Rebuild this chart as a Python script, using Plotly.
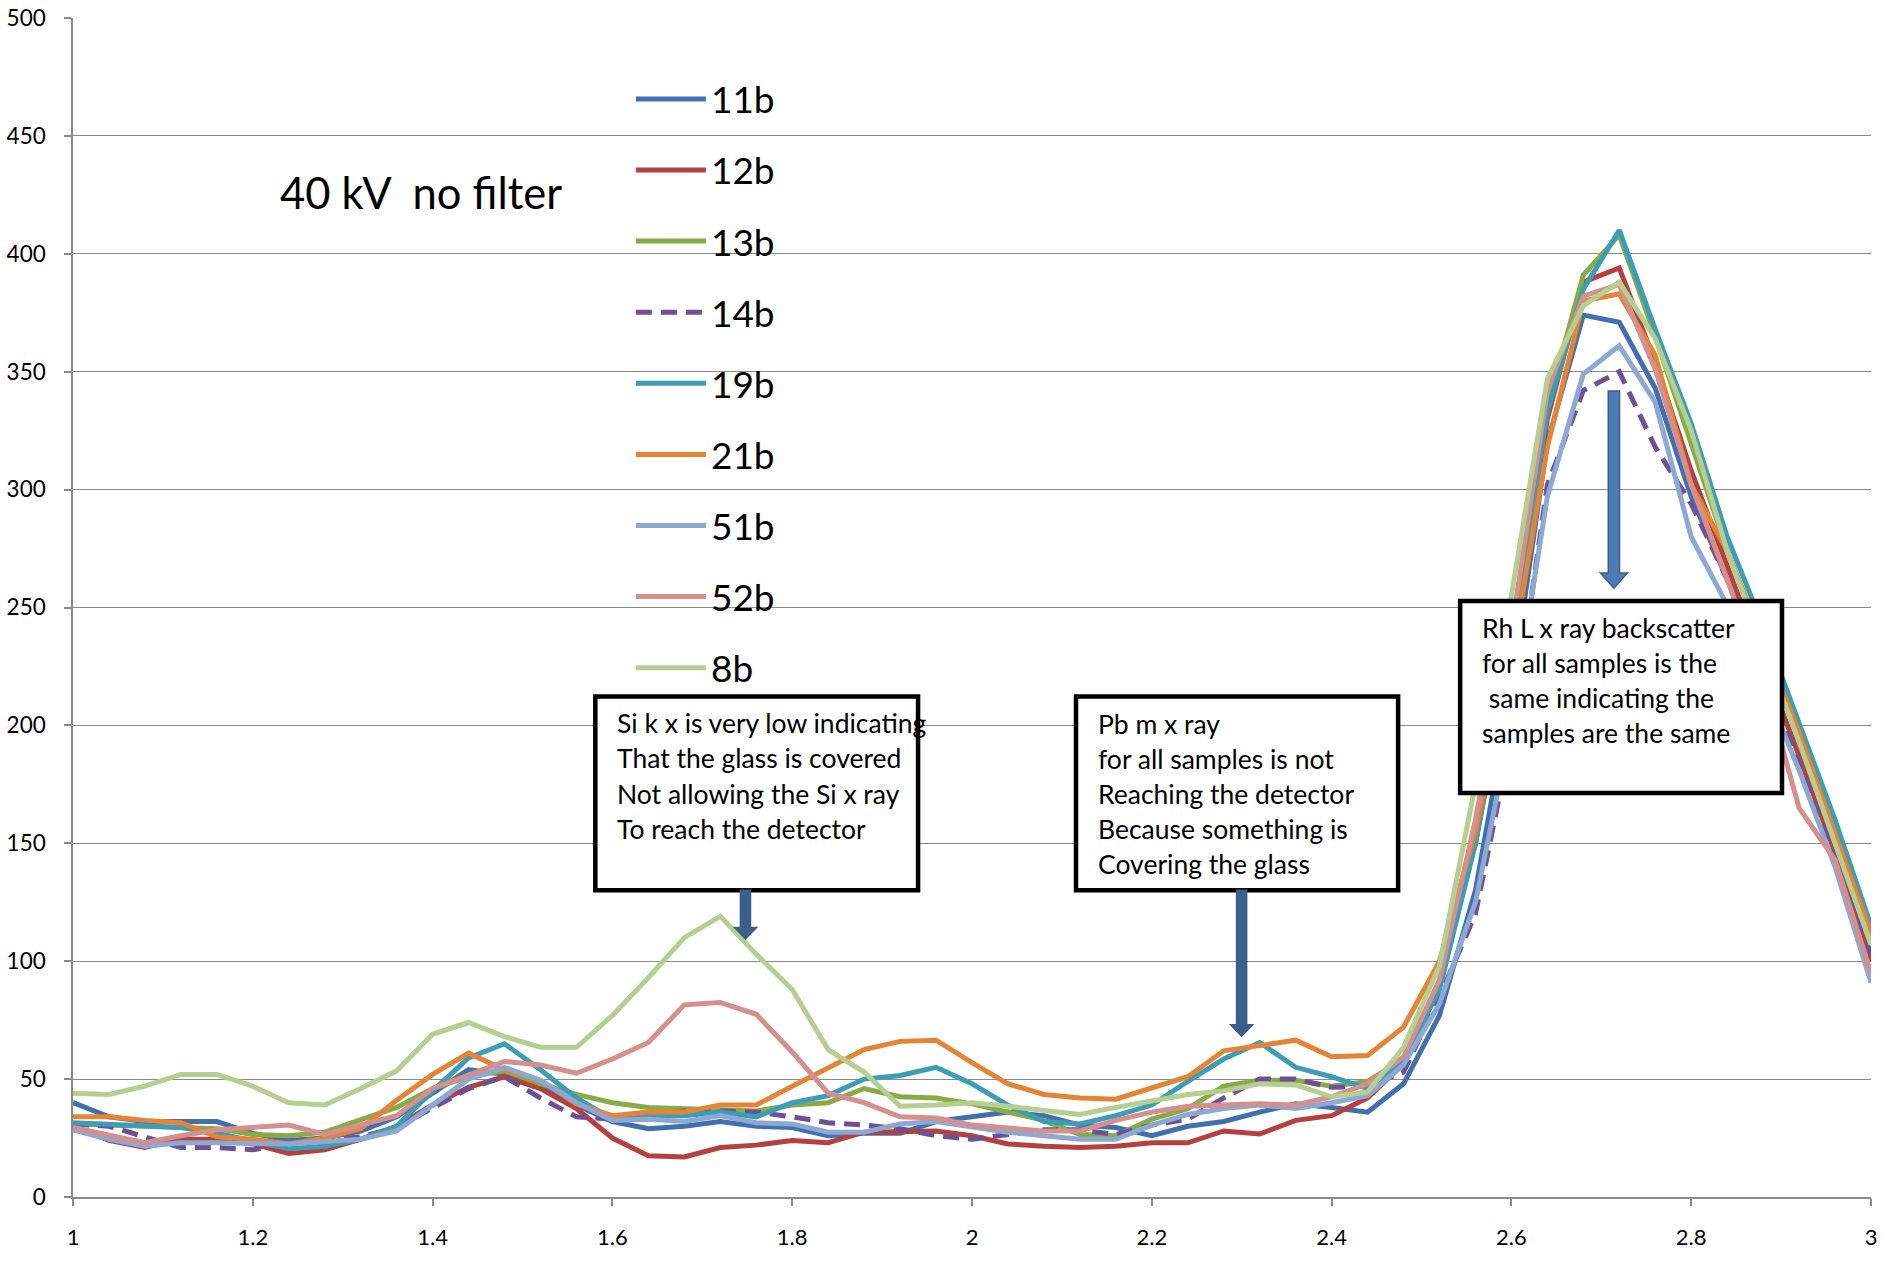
import plotly.graph_objects as go

# Energy axis (keV), one channel every 0.04 keV
energy = [1.00, 1.04, 1.08, 1.12, 1.16, 1.20, 1.24, 1.28, 1.32, 1.36,
          1.40, 1.44, 1.48, 1.52, 1.56, 1.60, 1.64, 1.68, 1.72, 1.76,
          1.80, 1.84, 1.88, 1.92, 1.96, 2.00, 2.04, 2.08, 2.12, 2.16,
          2.20, 2.24, 2.28, 2.32, 2.36, 2.40, 2.44, 2.48, 2.52, 2.56,
          2.60, 2.64, 2.68, 2.72, 2.76, 2.80, 2.84, 2.88, 2.92, 2.96, 3.00]

# Counts per channel for each sample
s11b = [40, 34, 32, 32, 32, 27, 24, 25, 28, 34, 44, 54, 52, 48, 39, 32, 29, 30, 32, 30,
        29.5, 26, 27, 27, 32, 34, 36, 34.5, 30.5, 29.5, 26, 30, 32, 36, 39.5, 38, 36, 48, 77, 130,
        215, 320, 374, 371, 343, 297, 262, 225, 188, 147, 102]
s12b = [30, 24, 21, 24.5, 24.5, 22.5, 18.5, 20, 24.5, 30, 39, 46.5, 51, 46, 37.5, 25, 17.5, 17, 21, 22,
        24, 23, 27.5, 27.5, 28, 26, 22.5, 21.5, 21, 21.5, 23, 23, 28, 26.7, 32.5, 34.5, 42, 56.5, 90, 150,
        230, 330, 388, 394, 354, 308, 268, 228, 187, 146, 100]
s13b = [31, 30.5, 30, 29.5, 29, 26.5, 26, 27.5, 32.5, 38, 46, 51, 53.5, 48, 43.5, 40, 38, 37.5, 36.5, 36.5,
        39, 40, 46, 42.5, 42, 39.5, 36, 32.5, 26.5, 26, 33, 37.5, 47, 49.5, 49.5, 47, 49, 58.5, 92, 150,
        235, 335, 391, 408, 365, 320, 274, 235, 195, 152, 110]
s14b = [31, 30, 25.5, 21, 21, 20, 23, 24.5, 25.5, 29.5, 38, 46, 51, 42, 34, 33, 34.5, 36.5, 36.5, 36,
        34, 31.5, 30.5, 29, 26, 24.5, 26.5, 28.5, 28.5, 26.5, 30.5, 33, 42, 50, 50, 46.5, 47, 53, 85, 120,
        195, 302, 342, 350, 318, 294, 262, 222, 184, 144, 103]
s19b = [31.5, 31, 30.5, 29.5, 27, 24, 20.5, 21.5, 24.5, 30, 45, 59, 65, 54, 42, 33, 34.5, 34.5, 36, 34,
        40, 43, 50, 51.5, 55, 48, 39, 32, 31, 34.5, 39, 49, 58.5, 65.5, 55, 51, 46, 58, 88, 150,
        235, 333, 385, 410, 368, 328, 280, 242, 201, 160, 115]
s21b = [34, 34, 32.5, 31.5, 25.5, 24.5, 22.5, 25, 29, 41, 52, 61, 54, 49.5, 39.5, 34.5, 36, 36, 39, 39,
        47, 54.5, 62.5, 66, 66.5, 57, 48, 43.5, 42, 41.5, 46, 51, 62, 64, 66.5, 59.5, 60, 72, 100, 155,
        228, 318, 380, 383, 357, 302, 274, 236, 197, 154, 112]
s51b = [28.5, 24.5, 21.5, 23, 23, 23, 22.5, 23.5, 24.5, 28, 39, 50, 55, 49.5, 40, 32.5, 33, 32, 34.5, 31.5,
        31, 27.5, 27.5, 31, 32, 29.5, 27.5, 26, 24.5, 24.5, 30.5, 35, 37.5, 39, 37.5, 40, 43, 56, 82, 125,
        200, 297, 349, 361, 337, 280, 251, 218, 181, 140, 91]
s52b = [29.5, 26, 23, 26, 28.5, 29.5, 30.5, 26.5, 30.5, 34.5, 46, 52, 57.5, 56, 52.5, 58.5, 65.5, 81.5, 82.5, 77.5,
        61.5, 44, 40, 34, 33.5, 30.5, 29, 28, 28, 32.5, 36, 38.5, 39, 39.5, 39, 42.5, 48, 59.5, 92, 160,
        240, 342, 382, 387, 351, 302, 262, 220, 165, 143, 95]
s8b = [44, 43.5, 47, 52, 52, 47, 40, 39, 46, 53.5, 69, 74, 68, 63.5, 63.5, 77, 93, 110, 119, 103,
       88, 62.5, 53, 38.5, 39, 40, 38.5, 36.5, 35, 38, 41, 43.5, 45, 48, 47.5, 42.5, 44.5, 63.5, 98, 175,
       255, 347, 378, 388, 364, 325, 274, 234, 193, 150, 107]

sample_names = ["11b", "12b", "13b", "14b", "19b", "21b", "51b", "52b", "8b"]
sample_counts = [s11b, s12b, s13b, s14b, s19b, s21b, s51b, s52b, s8b]
sample_colors = ["#4170B0", "#B5403D", "#88AB47", "#6E5195", "#3C9DB6",
                 "#E58434", "#8EA8D4", "#D58F8C", "#B5CF90"]
sample_dash = ["solid", "solid", "solid", "16px,9px", "solid",
               "solid", "solid", "solid", "solid"]

x_ticks = [1, 1.2, 1.4, 1.6, 1.8, 2, 2.2, 2.4, 2.6, 2.8, 3]

si_note = ["Si k x is very low indicating", "That the glass is covered",
           "Not allowing the Si x ray", "To reach the detector"]
pb_note = ["Pb m x ray", "for all samples is not", "Reaching the detector",
           "Because something is", "Covering the glass"]
rh_note = ["Rh L x ray backscatter", "for all samples is the",
           "\u00a0same indicating the", "samples are the same"]

GRID = "#8A8A8A"
ARROW = "#3B5E8C"

fig = go.Figure()
for name, counts, color, dash in zip(sample_names, sample_counts, sample_colors, sample_dash):
    fig.add_trace(go.Scatter(
        x=energy, y=counts, name=name, mode="lines", legendgroup=name,
        line=dict(color=color, width=5, dash=dash),
    ))

shapes = []
annotations = []


def note_box(x0, x1, y0, y1):
    shapes.append(dict(type="rect", xref="x", yref="y", x0=x0, x1=x1, y0=y0, y1=y1,
                       line=dict(color="black", width=4.5), fillcolor="white", layer="above"))


def note_lines(lines, x, y_first, step, font):
    for i, line in enumerate(lines):
        annotations.append(dict(text=line, x=x, y=y_first - i * step, xref="x", yref="y",
                                xanchor="left", yanchor="middle", showarrow=False,
                                font=font, borderpad=0))


def down_arrow(xc, y_top, y_tip, shaft_w, head_w, head_h, fill, edge):
    head_base = y_tip + head_h
    path = (f"M{xc - shaft_w / 2},{y_top} L{xc + shaft_w / 2},{y_top} "
            f"L{xc + shaft_w / 2},{head_base} L{xc + head_w / 2},{head_base} "
            f"L{xc},{y_tip} L{xc - head_w / 2},{head_base} "
            f"L{xc - shaft_w / 2},{head_base} Z")
    shapes.append(dict(type="path", xref="x", yref="y", path=path, fillcolor=fill,
                       line=dict(color=edge, width=1.5), layer="above"))


si_font = dict(family="Lato", size=26.5, color="black")
box_font = dict(family="Lato", size=26.5, color="black")

# Si K note
note_box(1.581, 1.940, 130.1, 212.3)
note_lines(si_note, 1.6045, 200.9, 14.9, si_font)
down_arrow(1.748, 130.1, 109.5, 0.0112, 0.0245, 4.8, ARROW, ARROW)

# Pb M note
note_box(2.1157, 2.474, 130.1, 212.3)
note_lines(pb_note, 2.1388, 200.8, 14.9, box_font)
down_arrow(2.2999, 130.1, 68.2, 0.0112, 0.0245, 4.8, ARROW, ARROW)

# Rh L backscatter note
down_arrow(2.714, 341.8, 258.2, 0.0125, 0.030, 6.4, "#4C7CB8", ARROW)
note_box(2.543, 2.901, 171.3, 252.8)
note_lines(rh_note, 2.566, 241.3, 14.9, box_font)

# Measurement conditions
annotations.append(dict(text="40 kV\u00a0 no filter", x=1.2286, y=426.3, xref="x", yref="y",
                        xanchor="left", yanchor="middle", showarrow=False, borderpad=0,
                        font=dict(family="Lato", size=43.5, color="black")))

fig.update_layout(
    width=1884, height=1261, autosize=False,
    margin=dict(l=73, r=13, t=18, b=64, autoexpand=False),
    paper_bgcolor="white", plot_bgcolor="white",
    showlegend=True,
    legend=dict(x=0.3103, y=0.9573, xanchor="left", yanchor="top",
                font=dict(family="Lato", size=37, color="black"),
                bgcolor="rgba(0,0,0,0)", itemwidth=70, tracegroupgap=20,
                itemclick=False, itemdoubleclick=False),
    shapes=shapes, annotations=annotations,
    xaxis=dict(range=[1, 3], tickvals=x_ticks, showgrid=False, zeroline=False,
               automargin=False,
               showline=True, linecolor=GRID, linewidth=1.5,
               ticks="outside", ticklen=7, tickcolor=GRID, tickwidth=1.5,
               ticklabelstandoff=13,
               tickfont=dict(family="Lato", size=22, color="black")),
    yaxis=dict(range=[0, 500], dtick=50, showgrid=True, gridcolor=GRID, gridwidth=1.4,
               automargin=False,
               zeroline=False, showline=True, linecolor=GRID, linewidth=1.5,
               ticks="outside", ticklen=7, tickcolor=GRID, tickwidth=1.5,
               ticklabelstandoff=14,
               tickfont=dict(family="Lato", size=22.5, color="black")),
)

fig.write_html("out.html")
